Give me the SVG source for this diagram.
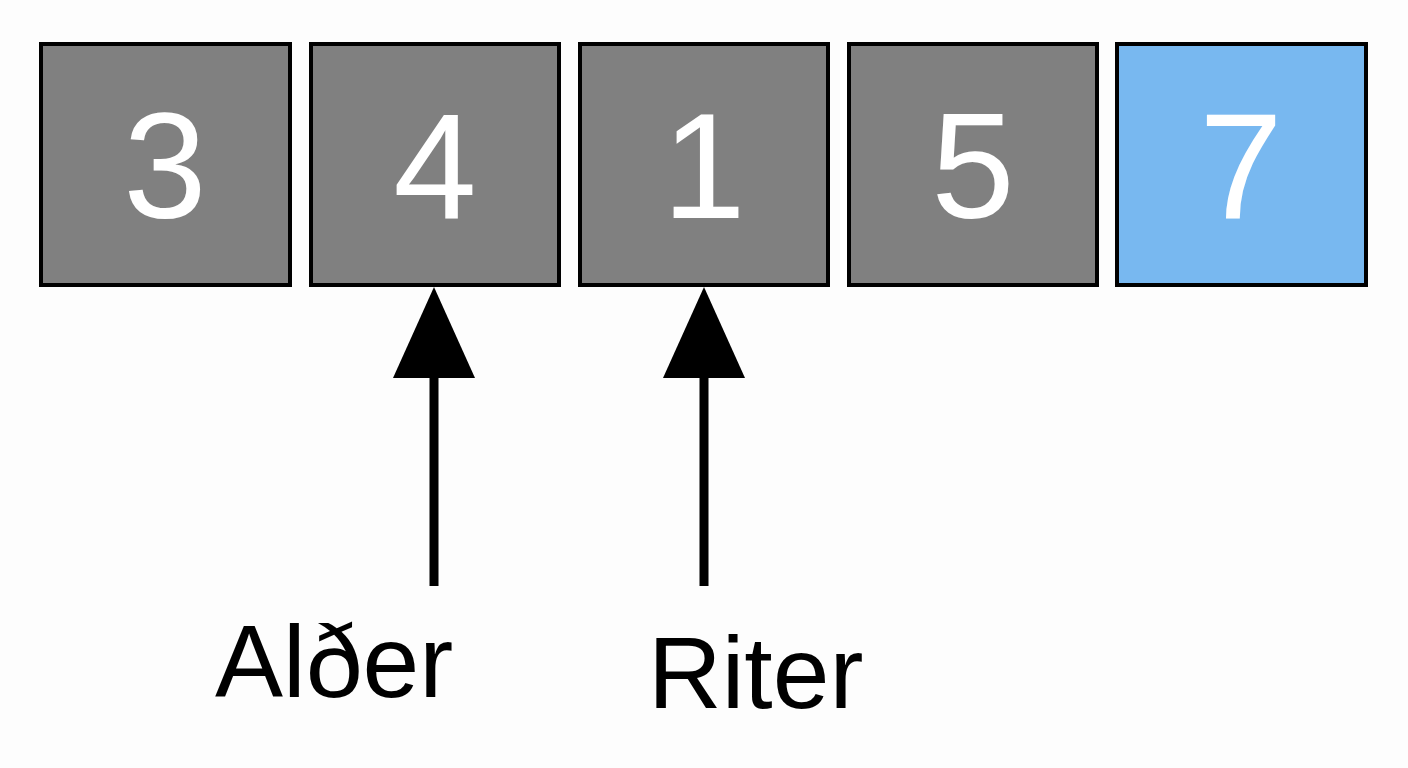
<svg xmlns="http://www.w3.org/2000/svg" width="1408" height="768" viewBox="0 0 1408 768">
<style>
.b{fill:#808080;stroke:#000;stroke-width:4}
.h{fill:#78b8f0}
.n{font-family:"Liberation Sans",Arial,sans-serif;font-size:150px;fill:#fff;text-anchor:middle}
.l{font-family:"Liberation Sans",Arial,sans-serif;font-size:102px;fill:#000}
</style>
<rect width="1408" height="768" fill="#fdfdfd"/>
<g id="n1"><rect class="b" x="41" y="44" width="249" height="241"/><text class="n" x="165" y="218">3</text></g>
<g id="n2"><rect class="b" x="311" y="44" width="248" height="241"/><text class="n" x="435" y="218">4</text></g>
<g id="n3"><rect class="b" x="580" y="44" width="248" height="241"/><text class="n" x="704" y="218">1</text></g>
<g id="n4"><rect class="b" x="849" y="44" width="248" height="241"/><text class="n" x="973" y="218">5</text></g>
<g id="n5"><rect class="b h" x="1117" y="44" width="249" height="241"/><text class="n" x="1241" y="218">7</text></g>
<g id="connectors">
<line x1="434" y1="586" x2="434" y2="360" stroke="#000" stroke-width="9"/>
<polygon points="434,287 475,378 393,378" fill="#000"/>
<line x1="704" y1="586" x2="704" y2="360" stroke="#000" stroke-width="9"/>
<polygon points="704,287 745,378 663,378" fill="#000"/>
</g>
<text class="l" x="215" y="697">Alðer</text>
<text class="l" x="648" y="708">Riter</text>
</svg>
